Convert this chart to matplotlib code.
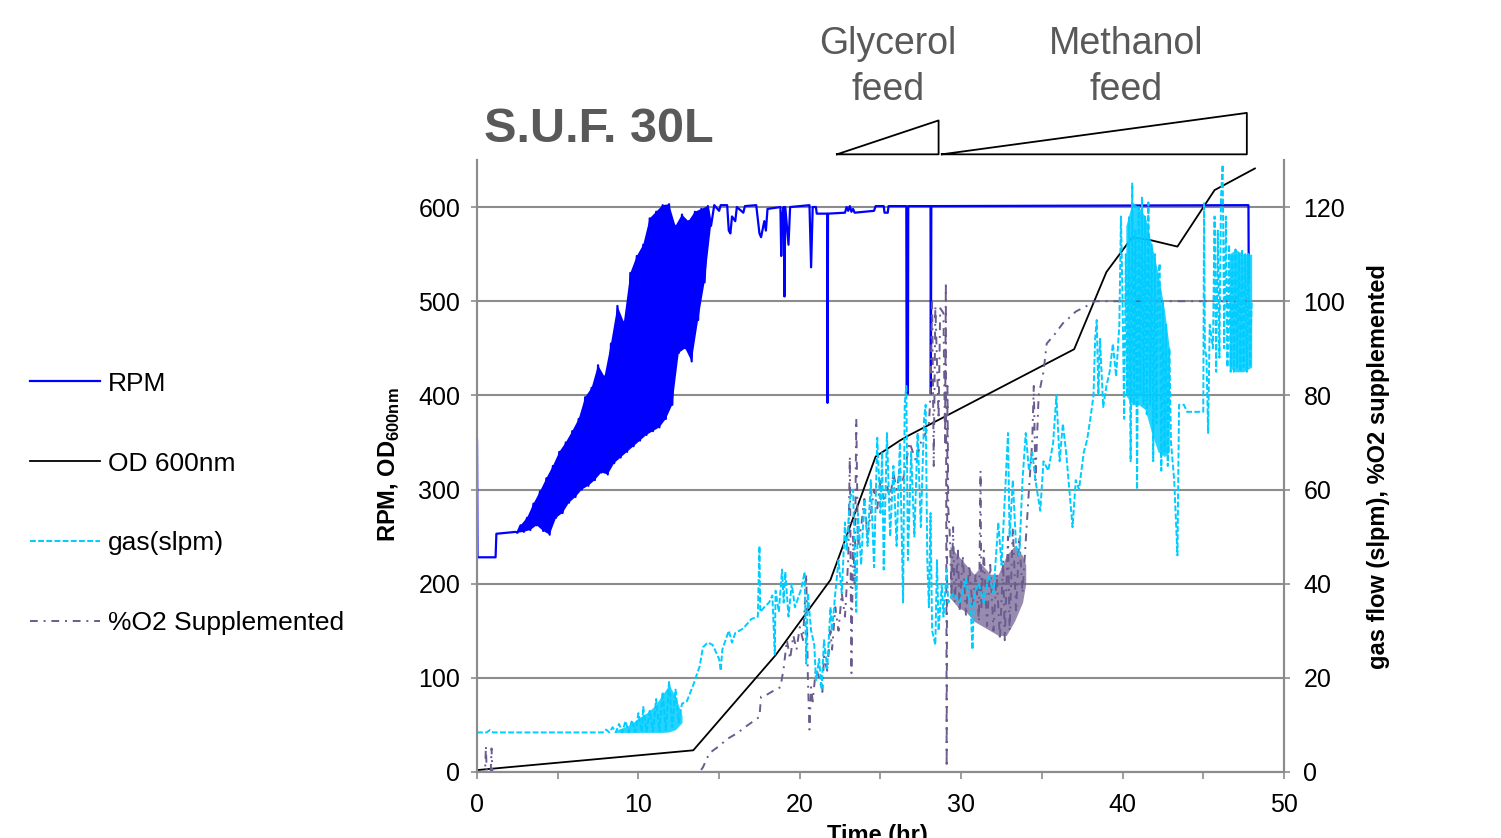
import numpy as np
import matplotlib
matplotlib.use('Agg')
import matplotlib.pyplot as plt
from matplotlib.ticker import MultipleLocator

plt.rcParams['font.family'] = ['Liberation Sans', 'DejaVu Sans']
plt.rcParams['mathtext.fontset'] = 'custom'
plt.rcParams['mathtext.bf'] = 'Liberation Sans:bold'
plt.rcParams['mathtext.rm'] = 'Liberation Sans:bold'

# ---- data (time in hr) ----
# RPM: start steps, oscillating ramp (alternating low/high readings), then plateau with dips
rpm_start = [(0.0, 352), (0.03, 228), (1.15, 228), (1.2, 253), (2.4, 255)]
rpm_ramp_t = [2.5, 2.7, 2.9, 3.1, 3.3, 3.5, 3.7, 3.9, 4.1, 4.3, 4.5, 4.7, 4.9, 5.1,
              5.3, 5.5, 5.7, 5.9, 6.1, 6.3, 6.5, 6.7, 6.9, 7.1, 7.3, 7.5, 7.7, 7.9,
              8.1, 8.3, 8.5, 8.7, 8.9, 9.1, 9.3, 9.5, 9.7, 9.9, 10.1, 10.3, 10.5,
              10.7, 10.9, 11.1, 11.3, 11.5, 11.7, 11.9, 12.1, 12.3, 12.5, 12.7,
              12.9, 13.1, 13.3, 13.5, 13.7, 13.9, 14.1, 14.3, 14.5]
rpm_ramp_v = [254, 262, 255, 270, 257, 285, 262, 298, 256, 312, 252, 325, 270, 340,
              275, 350, 286, 362, 292, 375, 300, 398, 304, 408, 310, 432, 318, 420,
              316, 455, 328, 495, 334, 478, 340, 530, 346, 548, 352, 560, 358,
              588, 362, 595, 366, 602, 375, 603, 390, 580, 445, 592,
              450, 585, 436, 595, 480, 598, 520, 601, 580]
rpm_plateau = [(14.7, 602), (15.0, 596), (15.1, 602), (15.5, 602), (15.6, 575), (15.7, 572),
               (15.8, 590), (16.0, 585), (16.1, 600), (16.5, 594), (16.6, 601), (17.3, 602),
               (17.5, 572), (17.6, 568), (17.8, 585), (17.9, 575), (18.0, 598), (18.8, 600),
               (18.85, 548), (18.9, 590), (19.0, 600), (19.05, 505), (19.1, 600), (19.3, 560),
               (19.4, 600), (20.6, 602), (20.7, 536), (20.8, 600), (21.0, 600),
               (21.05, 593), (21.7, 593), (21.72, 392), (21.75, 593), (22.8, 594),
               (22.9, 600), (23.0, 596), (23.1, 601), (23.2, 595), (23.3, 598),
               (23.4, 594), (24.6, 596), (24.7, 601), (25.2, 601), (25.25, 594),
               (25.45, 594), (25.5, 601), (26.6, 601), (26.62, 402), (26.7, 402),
               (26.72, 601), (28.1, 601), (28.12, 402), (28.15, 601), (47.8, 602),
               (47.82, 520)]

od_t = [0.0, 13.4, 18.5, 21.9, 22.8, 24.7, 26.2, 26.7, 37.0, 39.0, 40.6, 41.7, 43.4, 45.7, 48.2]
od_v = [2, 23, 124, 204, 246, 335, 352, 357, 449, 531, 568, 565, 558, 618, 641]

# gas flow (slpm), right axis
gas_pts = [(0.0, 8.4), (0.6, 8.4), (0.8, 8.9), (1.0, 8.4), (7.8, 8.4),
           (8.0, 9.0), (8.2, 8.4), (8.4, 9.5), (8.6, 8.4), (8.8, 10.2), (9.0, 8.4),
           (9.2, 10.8), (9.4, 8.4), (9.6, 11.0), (9.8, 8.5), (10.0, 12.5), (10.2, 8.5),
           (10.3, 13.8), (10.5, 8.6), (10.7, 13.0), (10.9, 8.6), (11.1, 15.5), (11.3, 8.7),
           (11.5, 17.0), (11.7, 8.8), (11.9, 19.3), (12.1, 9.5), (12.3, 17.5), (12.5, 10.5),
           (12.7, 14.5), (13.0, 15.0), (13.4, 18.5), (13.8, 22.5), (14.0, 26.5), (14.3, 27.5),
           (14.6, 27.0), (14.8, 25.5), (15.0, 24.0), (15.1, 21.5), (15.2, 26.0), (15.4, 28.0),
           (15.6, 30.0), (15.8, 27.5), (16.0, 29.5), (16.5, 30.5), (17.0, 32.5), (17.4, 33.0),
           (17.5, 48.0), (17.55, 34.0), (17.8, 35.0), (18.1, 36.0), (18.3, 37.5), (18.45, 25.0),
           (18.5, 38.5), (18.7, 34.0), (18.9, 43.0), (19.0, 36.0), (19.1, 42.5), (19.3, 33.0),
           (19.5, 40.0), (19.7, 35.0), (19.9, 37.0), (20.1, 39.0), (20.3, 42.5), (20.4, 23.0),
           (20.5, 38.0), (20.7, 30.0), (20.9, 27.0), (21.0, 19.5), (21.2, 24.0), (21.35, 17.5),
           (21.5, 28.0), (21.7, 22.0), (21.9, 35.0), (22.0, 30.0), (22.2, 38.0), (22.4, 45.0),
           (22.6, 38.0), (22.8, 53.0), (22.9, 47.0), (23.1, 58.0), (23.3, 60.0), (23.5, 34.0),
           (23.6, 55.0), (23.8, 44.0), (24.0, 58.0), (24.2, 48.0), (24.4, 62.0), (24.6, 43.5),
           (24.8, 71.0), (25.0, 55.0), (25.1, 68.0), (25.2, 43.0), (25.4, 72.0), (25.6, 50.0),
           (25.8, 65.0), (26.0, 48.0), (26.2, 70.0), (26.4, 36.0), (26.5, 78.0), (26.6, 82.0),
           (26.7, 45.0), (26.9, 68.0), (27.1, 50.0), (27.3, 72.0), (27.5, 52.0), (27.7, 75.0),
           (27.8, 78.0), (27.9, 45.0), (28.0, 35.0), (28.1, 55.0), (28.2, 30.0), (28.4, 27.0),
           (28.5, 45.0), (28.6, 30.0), (28.8, 40.0), (28.9, 33.0), (29.1, 43.0), (29.2, 36.0),
           (29.5, 38.0), (29.9, 36.0), (30.3, 41.0), (30.6, 34.0), (30.7, 26.0), (30.8, 38.0),
           (31.1, 40.0), (31.4, 36.0), (31.7, 42.0), (32.0, 38.0), (32.2, 48.0), (32.3, 53.0),
           (32.5, 44.0), (32.7, 58.0), (32.9, 72.0), (33.0, 50.0), (33.2, 62.0), (33.4, 48.0),
           (33.6, 46.0), (33.8, 62.0), (34.0, 72.0), (34.2, 64.0), (34.4, 68.0), (34.6, 62.0),
           (34.9, 55.5), (35.1, 66.0), (35.4, 64.0), (35.7, 70.0), (35.9, 80.0), (36.1, 66.0),
           (36.3, 74.0), (36.5, 68.0), (36.7, 60.0), (36.9, 52.0), (37.1, 62.0), (37.3, 60.0),
           (37.6, 68.0), (37.8, 70.5), (38.0, 75.0), (38.2, 80.0), (38.3, 92.0), (38.4, 96.0),
           (38.5, 80.0), (38.6, 92.0), (38.8, 77.5), (39.0, 82.0), (39.2, 85.0), (39.4, 91.0),
           (39.6, 84.0), (39.8, 95.0), (39.9, 118.0), (40.0, 100.0), (40.1, 75.0), (40.2, 110.0),
           (40.3, 80.0), (40.4, 118.0), (40.5, 66.0), (40.6, 125.0), (40.7, 78.0), (40.8, 115.0),
           (40.9, 60.0), (41.0, 120.0), (41.1, 80.0), (41.2, 122.0), (41.3, 78.0), (41.4, 118.0),
           (41.5, 76.0), (41.6, 121.0), (41.7, 78.0), (41.8, 112.0), (41.9, 66.0), (42.0, 110.0),
           (42.1, 74.0), (42.2, 105.0), (42.3, 108.0), (42.4, 64.0), (42.5, 100.0), (42.6, 68.0),
           (42.7, 95.0), (42.8, 65.0), (42.9, 90.0), (43.0, 70.0), (43.2, 62.0), (43.4, 46.0),
           (43.5, 78.0), (43.8, 78.0), (44.0, 76.5), (45.0, 76.5), (45.05, 121.0), (45.1, 90.0),
           (45.2, 88.0), (45.3, 72.0), (45.4, 95.0), (45.6, 90.0), (45.7, 118.0), (45.8, 85.0),
           (45.9, 115.0), (46.0, 88.0), (46.1, 122.0), (46.2, 129.0), (46.3, 90.0), (46.4, 118.0),
           (46.5, 86.0), (46.6, 112.0), (46.7, 85.0), (46.8, 110.0), (46.9, 85.0), (47.0, 111.0),
           (47.1, 86.0), (47.2, 110.0), (47.3, 85.0), (47.4, 111.0), (47.5, 86.0), (47.6, 110.0),
           (47.7, 85.0), (47.8, 110.0), (47.9, 86.0), (48.0, 100.0)]

# spans where the gas trace oscillates so fast it reads as a solid block
gas_band1_t = [8.6, 9.5, 10.0, 10.5, 11.0, 11.5, 11.9, 12.3, 12.7]
gas_band1_hi = [8.9, 10.0, 11.5, 12.5, 14.0, 16.5, 18.5, 16.0, 12.0]
gas_band1_lo = [8.4, 8.4, 8.4, 8.4, 8.4, 8.4, 8.5, 9.0, 10.5]
gas_band2_t = [40.2, 40.6, 41.0, 41.4, 41.8, 42.2, 42.6, 42.9]
gas_band2_hi = [116, 121, 120, 118, 112, 106, 98, 90]
gas_band2_lo = [80, 78, 78, 77, 72, 68, 67, 68]
gas_band3_t = [46.6, 47.0, 47.5, 48.0]
gas_band3_hi = [110, 111, 110, 110]
gas_band3_lo = [86, 85, 85, 86]

# %O2 supplemented, right axis
o2_pts = [(0.0, 0), (0.5, 0), (0.55, 5.5), (0.6, 0), (0.85, 0), (0.9, 5.0), (0.95, 0),
          (13.8, 0), (14.0, 1.0), (14.4, 4.0), (15.0, 5.5), (15.5, 7.0), (16.1, 8.2),
          (16.8, 10.0), (17.5, 11.7), (17.6, 16.0), (18.0, 16.5), (18.5, 17.5), (18.8, 18.0),
          (19.0, 22.0), (19.2, 28.0), (19.4, 24.0), (19.6, 29.0), (19.8, 26.0), (20.0, 30.8),
          (20.2, 28.0), (20.4, 42.0), (20.5, 20.0), (20.6, 9.0), (20.7, 18.0), (20.8, 15.0),
          (21.0, 22.0), (21.2, 20.0), (21.4, 17.0), (21.5, 24.5), (21.7, 21.5), (21.9, 30.0),
          (22.0, 26.0), (22.2, 35.0), (22.4, 30.0), (22.6, 38.0), (22.8, 33.0), (23.0, 45.0),
          (23.1, 67.0), (23.2, 21.0), (23.3, 50.0), (23.4, 40.0), (23.5, 75.0), (23.6, 48.0),
          (23.8, 52.0), (24.0, 58.0), (24.2, 50.0), (24.4, 55.0), (24.6, 60.0), (24.8, 56.0),
          (25.0, 62.0), (25.2, 58.0), (25.4, 61.0), (25.6, 57.8), (25.8, 63.5), (26.0, 60.0),
          (26.2, 64.0), (26.4, 62.0), (26.6, 66.0), (26.8, 70.0), (27.0, 68.0), (27.2, 66.0),
          (27.5, 70.0), (27.8, 72.0), (28.0, 74.0), (28.1, 80.0), (28.2, 100.0), (28.3, 65.0),
          (28.4, 99.0), (28.6, 75.0), (28.7, 98.5), (28.9, 97.5), (29.0, 70.0), (29.05, 104.0),
          (29.1, 1.0), (29.15, 82.0), (29.2, 56.0), (29.3, 50.0), (29.4, 38.0), (29.5, 52.0),
          (29.6, 36.0), (29.8, 47.0), (29.9, 34.0), (30.1, 46.0), (30.3, 33.0), (30.5, 44.0),
          (30.7, 35.0), (30.9, 42.0), (31.1, 32.0), (31.2, 64.0), (31.25, 35.0), (31.4, 47.0),
          (31.6, 31.0), (31.8, 44.0), (32.0, 30.0), (32.2, 42.0), (32.4, 28.0), (32.6, 45.0),
          (32.7, 28.0), (32.9, 50.0), (33.0, 30.0), (33.2, 52.0), (33.4, 34.0), (33.6, 50.0),
          (33.8, 38.0), (34.0, 49.0), (34.2, 60.0), (34.4, 70.0), (34.5, 82.0), (34.6, 62.0),
          (34.8, 80.0), (35.1, 85.0), (35.3, 91.0), (35.8, 93.0), (36.3, 95.3), (36.7, 96.5),
          (37.1, 97.8), (37.5, 98.5), (37.9, 99.2), (38.3, 100.0), (48.0, 100.0)]

o2_band_t = [29.3, 29.8, 30.3, 30.8, 31.3, 31.8, 32.3, 32.8, 33.3, 33.8, 34.0]
o2_band_hi = [48, 46, 44, 42, 44, 42, 42, 46, 48, 46, 44]
o2_band_lo = [37, 35, 34, 32, 31, 30, 29, 29, 32, 36, 40]

glycerol_feed = (22.3, 28.6)
methanol_feed = (28.8, 47.7)

# ---- plotting ----
blue = '#0000FF'
cyan = '#00CCFF'
purple = '#6B5B8E'
gray = '#8C8C8C'

fig = plt.figure(figsize=(15.01, 8.38), dpi=100)
ax = fig.add_axes([0.3178, 0.0788, 0.5376, 0.7303])
ax2 = ax.twinx()
ax2.patch.set_visible(False)

# RPM band: outline made from the low/high readings of the ramp
ramp_t = np.array(rpm_ramp_t)
ramp_v = np.array(rpm_ramp_v)
ax.fill(np.concatenate([ramp_t[1::2], ramp_t[0::2][::-1]]),
        np.concatenate([ramp_v[1::2], ramp_v[0::2][::-1]]),
        color=blue, lw=0)
rpm = np.array(rpm_start + list(zip(rpm_ramp_t, rpm_ramp_v)) + rpm_plateau)
l1, = ax.plot(rpm[:, 0], rpm[:, 1], color=blue, lw=1.6, label='RPM')
l2, = ax.plot(od_t, od_v, color='black', lw=1.3, label='OD 600nm')

for bt, bh, bl in [(gas_band1_t, gas_band1_hi, gas_band1_lo),
                   (gas_band2_t, gas_band2_hi, gas_band2_lo),
                   (gas_band3_t, gas_band3_hi, gas_band3_lo)]:
    ax2.fill_between(bt, bl, bh, color=cyan, alpha=0.85, lw=0)
ax2.fill_between(o2_band_t, o2_band_lo, o2_band_hi, color=purple, alpha=0.7, lw=0)

gas = np.array(gas_pts)
o2 = np.array(o2_pts)
l4, = ax2.plot(o2[:, 0], o2[:, 1], color=purple, lw=1.4, ls=(0, (4, 3, 1, 3)),
               label='%O2 Supplemented')
l3, = ax2.plot(gas[:, 0], gas[:, 1], color=cyan, lw=1.4, ls=(0, (3, 1.2)),
               label='gas(slpm)')

ax.set_xlim(0, 50)
ax.set_ylim(0, 650)
ax2.set_ylim(0, 130)
ax.set_yticks(range(0, 601, 100))
ax2.set_yticks(range(0, 121, 20))
ax.xaxis.set_major_locator(MultipleLocator(10))
ax.xaxis.set_minor_locator(MultipleLocator(5))
ax.yaxis.grid(True, color=gray, lw=1.5)
ax.set_axisbelow(True)

for a in (ax, ax2):
    a.spines['top'].set_visible(False)
    for s in ('left', 'right', 'bottom'):
        a.spines[s].set_color(gray)
        a.spines[s].set_linewidth(1.5)

ax.tick_params(axis='x', which='both', direction='out', length=5, width=1.2,
               color=gray, labelsize=18, pad=10)
ax.tick_params(axis='y', direction='inout', length=8, width=1.2, color=gray,
               labelsize=18, pad=8)
ax2.tick_params(axis='y', direction='inout', length=8, width=1.2, color=gray,
                labelsize=18, pad=10)

# axis titles
fig.text(389 / 1501, 1 - 465 / 838, r'RPM, OD$_{\mathbf{600nm}}$', rotation=90,
         ha='center', va='center', fontsize=17, fontweight='bold')
fig.text(1378 / 1501, 1 - 467 / 838, 'gas flow (slpm), %O2 supplemented', rotation=90,
         ha='center', va='center', fontsize=17, fontweight='bold')
fig.text(877 / 1501, 1 - 824 / 838, 'Time (hr)', ha='center', va='top',
         fontsize=17, fontweight='bold')

fig.text(484 / 1501, 1 - 130 / 838, 'S.U.F. 30L', ha='left', va='center',
         fontsize=35, fontweight='bold', color='#595959')

# feed annotations
fig.text(888 / 1501, 1 - 67 / 838, 'Glycerol\nfeed', ha='center', va='center',
         fontsize=27, color='#595959', linespacing=1.35)
fig.text(1126 / 1501, 1 - 67 / 838, 'Methanol\nfeed', ha='center', va='center',
         fontsize=27, color='#595959', linespacing=1.35)
g0, g1 = glycerol_feed
m0, m1 = methanol_feed
ax.plot([g0, g1, g1, g0], [656, 692, 656, 656], color='black', lw=1.3, clip_on=False)
ax.plot([m0, m1, m1, m0], [656, 700, 656, 656], color='black', lw=1.3, clip_on=False)

fig.legend(handles=[l1, l2, l3, l4], loc='center left',
           bbox_to_anchor=(30 / 1501, 1 - 503.5 / 838), frameon=False, fontsize=19,
           handlelength=2.65, handletextpad=0.3, labelspacing=2.12,
           borderpad=0, borderaxespad=0)

fig.savefig('out.png', dpi=100)
